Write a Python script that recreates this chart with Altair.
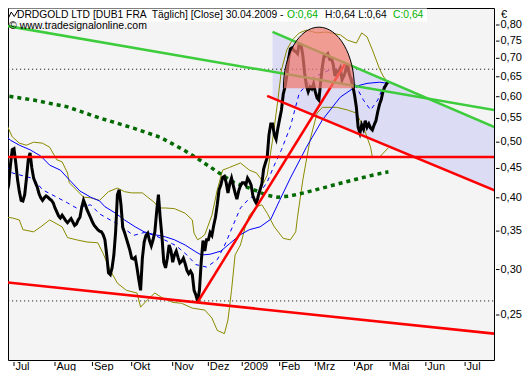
import altair as alt
import pandas as pd

# ---------------- data ----------------
holidays = ["2008-12-24", "2008-12-25", "2008-12-26", "2008-12-31",
            "2009-01-01", "2009-04-10", "2009-04-13", "2009-05-01"]

close_start = "2008-06-23"
close = [0.390, 0.396, 0.408, 0.421, 0.456, 0.485, 0.487, 0.460, 0.430, 0.410,
         0.396, 0.395, 0.405, 0.433, 0.466, 0.479, 0.451, 0.433, 0.425, 0.418,
         0.407, 0.400, 0.396, 0.400, 0.403, 0.401, 0.398, 0.396, 0.392, 0.384,
         0.378, 0.372, 0.369, 0.373, 0.369, 0.365, 0.362, 0.365, 0.368, 0.363,
         0.358, 0.360, 0.366, 0.370, 0.385, 0.396, 0.389, 0.381, 0.375, 0.369,
         0.363, 0.358, 0.355, 0.352, 0.350, 0.349, 0.345, 0.338, 0.318, 0.296,
         0.294, 0.302, 0.318, 0.349, 0.405, 0.413, 0.389, 0.355, 0.348, 0.340,
         0.332, 0.324, 0.314, 0.313, 0.315, 0.302, 0.288, 0.276, 0.314, 0.335,
         0.344, 0.347, 0.337, 0.330, 0.338, 0.349, 0.378, 0.405, 0.369, 0.342,
         0.309, 0.302, 0.314, 0.331, 0.324, 0.309, 0.318, 0.323, 0.315, 0.308,
         0.310, 0.314, 0.307, 0.299, 0.295, 0.298, 0.294, 0.276, 0.271, 0.264,
         0.276, 0.309, 0.337, 0.323, 0.338, 0.338, 0.348, 0.344, 0.358, 0.370,
         0.389, 0.413, 0.421, 0.434, 0.436, 0.425, 0.408, 0.423, 0.433, 0.420,
         0.408, 0.398, 0.411, 0.420, 0.425, 0.425, 0.421, 0.433, 0.428, 0.421,
         0.403, 0.396, 0.391, 0.403, 0.413, 0.423, 0.449, 0.460, 0.470, 0.515,
         0.538, 0.538, 0.515, 0.506, 0.529, 0.549, 0.569, 0.606, 0.624, 0.652,
         0.699, 0.727, 0.730, 0.722, 0.719, 0.713, 0.742, 0.739, 0.707, 0.660,
         0.627, 0.612, 0.624, 0.619, 0.632, 0.612, 0.597, 0.592, 0.637, 0.679,
         0.710, 0.707, 0.713, 0.698, 0.700, 0.684, 0.652, 0.665, 0.663, 0.673,
         0.642, 0.652, 0.665, 0.684, 0.658, 0.644, 0.627, 0.604, 0.576, 0.531,
         0.519, 0.536, 0.527, 0.545, 0.531, 0.538, 0.529, 0.525, 0.536, 0.545,
         0.565, 0.582, 0.594, 0.614, 0.624, 0.632, 0.640]

bb_up_dates = ["2008-06-20", "2008-06-25", "2008-06-30", "2008-07-04", "2008-07-10", "2008-07-16",
               "2008-07-23", "2008-07-29", "2008-08-04", "2008-08-07", "2008-08-12", "2008-08-13",
               "2008-08-19", "2008-08-25", "2008-08-29", "2008-09-05", "2008-09-12", "2008-09-19",
               "2008-09-25", "2008-10-01", "2008-10-09", "2008-10-14", "2008-10-20", "2008-10-22",
               "2008-10-28", "2008-11-04", "2008-11-12", "2008-11-18", "2008-11-19", "2008-11-21",
               "2008-11-25", "2008-11-27", "2008-12-03", "2008-12-08", "2008-12-11", "2008-12-17",
               "2008-12-30", "2009-01-08", "2009-01-14", "2009-01-20", "2009-01-22", "2009-01-27",
               "2009-01-30", "2009-02-03", "2009-02-06", "2009-02-11", "2009-02-17", "2009-02-23",
               "2009-03-03", "2009-03-10", "2009-03-20", "2009-03-26", "2009-04-02", "2009-04-07",
               "2009-04-14", "2009-04-17", "2009-04-23", "2009-04-27", "2009-04-30"]
bb_up = [0.547, 0.536, 0.511, 0.498, 0.494, 0.500, 0.498, 0.490, 0.466, 0.462, 0.442, 0.425,
         0.413, 0.401, 0.400, 0.396, 0.410, 0.416, 0.410, 0.408, 0.408, 0.401, 0.392, 0.384,
         0.384, 0.383, 0.376, 0.366, 0.347, 0.338, 0.341, 0.345, 0.373, 0.413, 0.447, 0.452,
         0.460, 0.447, 0.442, 0.425, 0.438, 0.504, 0.592, 0.668, 0.724, 0.753, 0.775, 0.784,
         0.775, 0.778, 0.769, 0.753, 0.744, 0.775, 0.763, 0.724, 0.671, 0.652, 0.633]

bb_lo_dates = ["2008-06-20", "2008-06-25", "2008-06-30", "2008-07-04", "2008-07-08", "2008-07-16",
               "2008-07-22", "2008-07-29", "2008-08-07", "2008-08-12", "2008-08-19", "2008-08-27",
               "2008-09-04", "2008-09-09", "2008-09-15", "2008-09-19", "2008-09-26", "2008-10-06",
               "2008-10-08", "2008-10-14", "2008-10-20", "2008-10-24", "2008-11-03", "2008-11-10",
               "2008-11-18", "2008-11-27", "2008-12-03", "2008-12-08", "2008-12-12", "2008-12-16",
               "2008-12-18", "2008-12-22", "2008-12-30", "2009-01-06", "2009-01-08", "2009-01-14",
               "2009-01-19", "2009-01-22", "2009-01-28", "2009-02-04", "2009-02-10", "2009-02-13",
               "2009-02-16", "2009-02-19", "2009-02-25", "2009-03-03", "2009-03-06", "2009-03-18",
               "2009-03-26", "2009-04-02", "2009-04-08", "2009-04-16", "2009-04-17", "2009-04-23",
               "2009-04-30"]
bb_lo = [0.381, 0.370, 0.369, 0.366, 0.352, 0.349, 0.356, 0.366, 0.356, 0.341, 0.338, 0.335,
         0.334, 0.320, 0.299, 0.284, 0.276, 0.273, 0.258, 0.266, 0.273, 0.268, 0.263, 0.262,
         0.257, 0.255, 0.247, 0.235, 0.232, 0.245, 0.276, 0.318, 0.331, 0.359, 0.373, 0.386,
         0.389, 0.376, 0.356, 0.340, 0.338, 0.349, 0.370, 0.430, 0.504, 0.562, 0.575, 0.575,
         0.569, 0.562, 0.531, 0.490, 0.471, 0.471, 0.489]

ma_dates = ["2008-06-20", "2008-06-27", "2008-07-04", "2008-07-14", "2008-07-22", "2008-07-29",
            "2008-08-06", "2008-08-13", "2008-08-21", "2008-08-29", "2008-09-05", "2008-09-10",
            "2008-09-18", "2008-09-25", "2008-10-03", "2008-10-10", "2008-10-20", "2008-10-28",
            "2008-11-04", "2008-11-12", "2008-11-20", "2008-11-25", "2008-12-02", "2008-12-10",
            "2008-12-17", "2008-12-30", "2009-01-08", "2009-01-16", "2009-01-26", "2009-02-02",
            "2009-02-10", "2009-02-23", "2009-03-06", "2009-03-20", "2009-04-02", "2009-04-14",
            "2009-04-23", "2009-04-30"]
ma_slow = [0.520, 0.504, 0.494, 0.485, 0.473, 0.456, 0.447, 0.430, 0.411, 0.401, 0.395, 0.386,
           0.376, 0.366, 0.356, 0.349, 0.345, 0.342, 0.338, 0.331, 0.322, 0.318, 0.319, 0.323,
           0.333, 0.345, 0.352, 0.356, 0.367, 0.396, 0.433, 0.490, 0.547, 0.599, 0.626, 0.633,
           0.636, 0.633]

ma_fast_dates = ["2008-06-20", "2008-06-30", "2008-07-16", "2008-07-23", "2008-08-04", "2008-08-12",
                 "2008-08-19", "2008-08-29", "2008-09-05", "2008-09-15", "2008-09-22", "2008-10-02",
                 "2008-10-10", "2008-10-20", "2008-10-29", "2008-11-05", "2008-11-13", "2008-11-20",
                 "2008-11-28", "2008-12-08", "2008-12-15", "2008-12-19", "2008-12-30", "2009-01-07",
                 "2009-01-13", "2009-01-19", "2009-01-22", "2009-01-28", "2009-02-03", "2009-02-10",
                 "2009-02-17", "2009-02-27", "2009-03-12", "2009-03-24", "2009-03-27", "2009-04-02",
                 "2009-04-08", "2009-04-16", "2009-04-22", "2009-04-27", "2009-04-30"]
ma_fast = [0.466, 0.442, 0.432, 0.413, 0.401, 0.392, 0.384, 0.389, 0.375, 0.366, 0.359, 0.344,
           0.348, 0.344, 0.336, 0.330, 0.318, 0.306, 0.303, 0.312, 0.335, 0.359, 0.384, 0.396,
           0.405, 0.413, 0.426, 0.456, 0.485, 0.532, 0.609, 0.649, 0.668, 0.675, 0.662, 0.624,
           0.592, 0.569, 0.592, 0.624, 0.633]

ma200_dates = ["2008-06-20", "2008-07-16", "2008-08-12", "2008-09-05", "2008-10-02", "2008-10-23",
               "2008-11-11", "2008-11-24", "2008-12-08", "2008-12-19", "2009-01-08", "2009-01-22",
               "2009-01-30", "2009-02-10", "2009-02-23", "2009-03-06", "2009-03-20", "2009-04-02",
               "2009-04-17", "2009-04-30"]
ma200 = [0.604, 0.592, 0.576, 0.551, 0.529, 0.510, 0.485, 0.466, 0.444, 0.426, 0.416, 0.404,
         0.401, 0.403, 0.409, 0.416, 0.424, 0.431, 0.438, 0.444]

# drawn trend lines: name, start date, start value, end date, end value
red_lines = [("support", "2008-06-20", 0.2855, "2009-07-28", 0.2315),
             ("horizontal", "2008-06-20", 0.471, "2009-07-28", 0.471),
             ("rising", "2008-11-21", 0.2634, "2009-03-25", 0.687),
             ("falling", "2009-01-22", 0.602, "2009-07-28", 0.409)]
green_lines = [("long", "2008-06-20", 0.800, "2009-07-28", 0.567),
               ("steep", "2009-01-27", 0.778, "2009-07-28", 0.527)]
dotted_levels = [0.670, 0.2645]
channel_dates = ["2009-01-27", "2009-07-28"]
channel_top = [0.778, 0.527]
channel_bottom = [0.597, 0.409]
dome_date, dome_value = "2009-03-04", 0.621

x_tick_dates = ["2008-07-01", "2008-08-01", "2008-09-01", "2008-10-01", "2008-11-03", "2008-12-01",
                "2009-01-02", "2009-02-02", "2009-03-02", "2009-04-01", "2009-05-04", "2009-06-01",
                "2009-07-01"]
x_tick_labels = ["Jul", "Aug", "Sep", "Okt", "Nov", "Dez", "2009", "Feb", "Mrz", "Apr", "Mai", "Jun", "Jul"]
y_ticks = [0.25, 0.30, 0.35, 0.40, 0.45, 0.50, 0.55, 0.60, 0.65, 0.70, 0.75, 0.80]

title_main = "DRDGOLD LTD [DUB1 FRA \u00a0Täglich] [Close] 30.04.2009 -"
title_open = "O:0,64"
title_hl = "H:0,64 L:0,64"
title_close = "C:0,64"
copyright_text = "© www.tradesignalonline.com"
currency = "€"

# ---------------- trading-day axis ----------------
cal = pd.bdate_range("2008-06-02", "2009-08-31")
cal = cal[~cal.isin(pd.to_datetime(holidays))]
t_origin = cal.get_loc(pd.Timestamp("2008-07-01"))


def tpos(d):
    return int(cal.searchsorted(pd.Timestamp(d))) - t_origin


def series(dates, vals):
    return pd.DataFrame({"t": [tpos(d) for d in dates], "v": vals})


s0 = tpos(close_start)
close_df = pd.DataFrame({"t": list(range(s0, s0 + len(close))), "v": close})

FONT = "Liberation Sans"
W, H = 486, 352
PX_PER_DAY = 1.783
T_LEFT = -3.365

xs = alt.Scale(domain=[T_LEFT, T_LEFT + W / PX_PER_DAY], nice=False, zero=False)
ys = alt.Scale(type="log", domain=[0.2087, 0.8565], nice=False)
Xn = alt.X("t:Q", scale=xs, axis=None)
Yn = alt.Y("v:Q", scale=ys, axis=None)


def seg_df(lines):
    rows = []
    for name, d1, v1, d2, v2 in lines:
        rows.append({"name": name, "t": tpos(d1), "v": v1})
        rows.append({"name": name, "t": tpos(d2), "v": v2})
    return pd.DataFrame(rows)


channel_df = pd.DataFrame({"t": [tpos(d) for d in channel_dates], "v": channel_top, "v2": channel_bottom})
channel = alt.Chart(channel_df).mark_area(clip=True, color="#dcdcf4", opacity=1).encode(
    x=Xn, y=Yn, y2="v2:Q")

dot_rows = []
for i, lv in enumerate(dotted_levels):
    dot_rows += [{"name": i, "t": -10, "v": lv}, {"name": i, "t": 280, "v": lv}]
dotted = alt.Chart(pd.DataFrame(dot_rows)).mark_line(clip=True, color="black", strokeWidth=1,
                                                      strokeDash=[1, 3]).encode(x=Xn, y=Yn, detail="name:N")

olive = "#8a8a00"
bbu = alt.Chart(series(bb_up_dates, bb_up)).mark_line(clip=True, color=olive, strokeWidth=1).encode(x=Xn, y=Yn)
bbl = alt.Chart(series(bb_lo_dates, bb_lo)).mark_line(clip=True, color=olive, strokeWidth=1).encode(x=Xn, y=Yn)
mas = alt.Chart(series(ma_dates, ma_slow)).mark_line(clip=True, color="#0000ff", strokeWidth=1).encode(x=Xn, y=Yn)
maf = alt.Chart(series(ma_fast_dates, ma_fast)).mark_line(clip=True, color="#0000ff", strokeWidth=1,
                                                          strokeDash=[4, 4]).encode(x=Xn, y=Yn)
m200 = alt.Chart(series(ma200_dates, ma200)).mark_line(clip=True, color="#006a00", strokeWidth=3.5,
                                                       strokeDash=[4, 4]).encode(x=Xn, y=Yn)
price = alt.Chart(close_df).mark_line(clip=True, color="black", strokeWidth=3).encode(x=Xn, y=Yn)
reds = alt.Chart(seg_df(red_lines)).mark_line(clip=True, color="#ff0000", strokeWidth=2.5).encode(
    x=Xn, y=Yn, detail="name:N")
greens = alt.Chart(seg_df(green_lines)).mark_line(clip=True, color="#3ccc3c", strokeWidth=2.5).encode(
    x=Xn, y=Yn, detail="name:N")

dome_df = pd.DataFrame({"t": [tpos(dome_date)], "v": [dome_value]})
dome_fill = alt.Chart(dome_df).mark_point(shape="M -1 0 A 1 1.718 0 0 1 1 0 Z", size=5041, filled=True,
                                          fill="#f07a6e", fillOpacity=0.72, strokeWidth=0,
                                          opacity=1).encode(x=Xn, y=Yn)
dome_edge = alt.Chart(dome_df).mark_point(shape="M -1 0 A 1 1.718 0 0 1 1 0", size=5041, filled=False,
                                          stroke="black", strokeWidth=1, opacity=1).encode(x=Xn, y=Yn)

# ---------- axes drawn as marks (trading-day scale) ----------
xax_df = pd.DataFrame({"t": [tpos(d) for d in x_tick_dates], "label": x_tick_labels})
x_tick_marks = alt.Chart(xax_df).mark_rule(color="black", strokeWidth=1).encode(
    x=Xn, y=alt.value(H + 2), y2=alt.value(H + 6))
x_labels = alt.Chart(xax_df).mark_text(align="left", baseline="alphabetic", font=FONT, fontSize=11,
                                       dx=1.5, color="black").encode(x=Xn, y=alt.value(H + 9.5), text="label:N")

yax_df = pd.DataFrame({"v": y_ticks, "label": [f"{v:.2f}".replace(".", ",") for v in y_ticks]})
y_tick_marks = alt.Chart(yax_df).mark_rule(color="black", strokeWidth=1).encode(
    x=alt.value(W + 2), x2=alt.value(W + 5.5), y=Yn)
y_labels = alt.Chart(yax_df).mark_text(align="left", baseline="middle", font=FONT, fontSize=11,
                                       color="black").encode(x=alt.value(W + 6.5), y=Yn, text="label:N")

one = pd.DataFrame({"a": [0]})
title_box = alt.Chart(one).mark_rect(color="white").encode(
    x=alt.value(1), x2=alt.value(419), y=alt.value(0.5), y2=alt.value(13.5))
icon = alt.Chart(one).mark_point(shape="M -1 0.9 L -0.35 -0.5 L 0.25 0.4 L 1 -0.9", size=100, filled=False,
                                 stroke="black", strokeWidth=1, opacity=1).encode(
    x=alt.value(5), y=alt.value(6.5))


def label(txt, x, y, color="black", size=10.3, baseline="middle"):
    return alt.Chart(one).mark_text(text=txt, align="left", baseline=baseline, font=FONT, fontSize=size,
                                    color=color).encode(x=alt.value(x), y=alt.value(y))


TY = 6.8
texts = [label(title_main, 9, TY), label(title_open, 279, TY, "#00b000"),
         label(title_hl, 317, TY), label(title_close, 385, TY, "#00b000"),
         label(copyright_text, 1, 17.5, size=10.5), label(currency, W + 7, 0.5, size=11, baseline="top")]

chart = alt.layer(channel, dotted, bbu, bbl, mas, maf, m200, price, reds, greens, dome_fill, dome_edge,
                  title_box, icon, x_tick_marks, x_labels, y_tick_marks, y_labels, *texts).properties(
    width=W, height=H, background="white",
    autosize=alt.AutoSizeParams(type="none"),
    padding={"left": 0, "top": 0, "right": 28, "bottom": 11}
).configure_view(stroke="black", strokeWidth=1, fill="#f4f4f4")

chart.save("out.html", embed_options={"renderer": "svg", "actions": False})
